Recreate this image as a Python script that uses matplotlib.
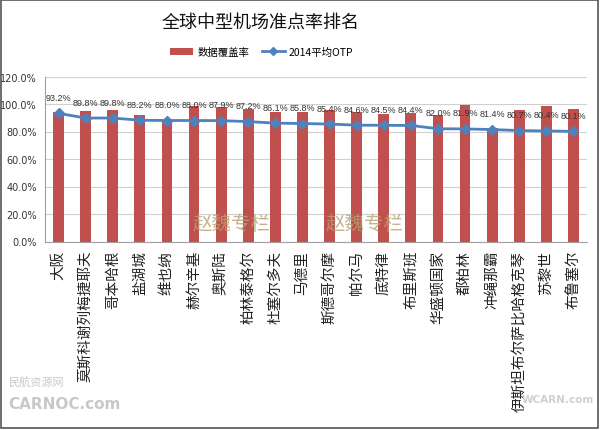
import matplotlib
matplotlib.use("Agg")
import matplotlib.pyplot as plt
from matplotlib.patches import Rectangle
from matplotlib.lines import Line2D
from matplotlib.patches import Patch
import numpy as np

plt.rcParams['font.family'] = ['Noto Sans CJK SC', 'DejaVu Sans']

airports = ["大阪", "莫斯科谢列梅捷耶夫", "哥本哈根", "盐湖城", "维也纳", "赫尔辛基", "奥斯陆",
            "柏林泰格尔", "杜塞尔多夫", "马德里", "斯德哥尔摩", "帕尔马", "底特律", "布里斯班",
            "华盛顿国家", "都柏林", "冲绳那霸", "伊斯坦布尔萨比哈格克琴", "苏黎世", "布鲁塞尔"]
coverage = [94.0, 95.0, 95.5, 92.0, 88.0, 98.8, 97.6, 96.4, 94.0, 94.4,
            95.6, 94.4, 92.5, 93.4, 92.0, 99.2, 82.2, 95.9, 98.3, 96.4]
otp = [93.2, 89.8, 89.8, 88.2, 88.0, 88.0, 87.9, 87.2, 86.1, 85.8,
       85.4, 84.6, 84.5, 84.4, 82.0, 81.9, 81.4, 80.7, 80.4, 80.1]
yticks = [0, 20, 40, 60, 80, 100, 120]

W, H = 600, 431
fig = plt.figure(figsize=(6, 4.31), dpi=100)
fig.patch.set_facecolor('white')

ax = fig.add_axes([45/W, 1-242.5/H, (587-45)/W, (242.5-77.5)/H])
x = np.arange(len(airports))
ax.bar(x, coverage, width=0.4, color='#C0504D', zorder=2)
ax.plot(x, otp, color='#4F81BD', lw=2, marker='D', ms=5, zorder=3)
for xi, v in zip(x, otp):
    ax.annotate(f"{v:.1f}%", (xi, v), xytext=(0, 11.5), textcoords='offset points',
                ha='center', va='center', fontsize=6.5, color='#333333',
                family=['Liberation Sans', 'DejaVu Sans'])

ax.set_xlim(-0.5, len(airports)-0.5)
ax.set_ylim(0, 120)
ax.set_yticks(yticks)
ax.set_yticklabels([f"{t:.1f}%" for t in yticks], fontsize=7, color='#333333',
                   family=['DejaVu Sans'])
ax.yaxis.grid(True, color='#D0D0D0', lw=0.8, zorder=0)
ax.set_axisbelow(True)
ax.set_xticks(x)
ax.set_xticklabels(airports, rotation=90, fontsize=10.5, color='#222222', va='top', ha='center')
ax.tick_params(axis='x', length=0, pad=6)
ax.tick_params(axis='y', length=0, pad=6)
for s in ['top', 'right']:
    ax.spines[s].set_visible(False)
ax.spines['left'].set_color('#A0A0A0')
ax.spines['bottom'].set_color('#A0A0A0')

fig.text(261/W, 1-23/H, "全球中型机场准点率排名", ha='center', va='center', fontsize=13, color='#111111')

handles = [Patch(facecolor='#C0504D', edgecolor='none', label='数据覆盖率'),
           Line2D([0], [0], color='#4F81BD', lw=2, marker='D', ms=4, label='2014平均OTP')]
fig.legend(handles=handles, loc='center', bbox_to_anchor=(262/W, 1-53/H), ncol=2,
           frameon=False, fontsize=7.5, handlelength=2.2, columnspacing=1.2, handletextpad=0.4)

# watermarks
for xx in (232, 365):
    fig.text(xx/W, 1-225/H, "赵魏专栏", ha='center', va='center', fontsize=14,
             color='#B8A070', alpha=0.8, style='italic')
fig.text(8/W, 1-382/H, "民航资源网", ha='left', va='center', fontsize=8, color='#C8C8C8')
fig.text(8/W, 1-405/H, "CARNOC.com", ha='left', va='center', fontsize=11,
         color='#C8C8C8', weight='bold', family=['DejaVu Sans'])
fig.text(594/W, 1-400/H, "WCARN.com", ha='right', va='center', fontsize=7.5,
         color='#D0D0D0', weight='bold', family=['DejaVu Sans'])

fig.patches.append(Rectangle((1/W, 2/H), 597/W, 428/H, transform=fig.transFigure,
                             fill=False, edgecolor='#555555', lw=1.2))

fig.savefig("out.png", dpi=100)
